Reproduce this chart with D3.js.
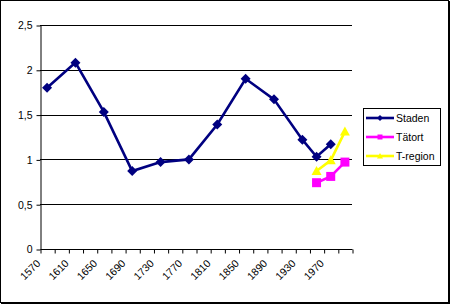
<!DOCTYPE html>
<html><head><meta charset="utf-8">
<script src="https://cdn.jsdelivr.net/npm/d3@7"></script>
<style>html,body{margin:0;padding:0;background:#fff;}svg{display:block;}</style>
</head><body>
<svg id="c" width="450" height="304"></svg>
<script>
const categories = d3.range(1570, 1991, 20);
const labelYears = [1570,1610,1650,1690,1730,1770,1810,1850,1890,1930,1970];
const stadenYears = [1570,1610,1650,1690,1730,1770,1810,1850,1890,1930,1950,1970];
const stadenValues = [1.80,2.08,1.53,0.87,0.97,1.00,1.39,1.90,1.67,1.22,1.03,1.17];
const regionYears = [1950,1970,1990];
const tatortValues = [0.74,0.81,0.97];
const tregionValues = [0.87,0.99,1.31];
const yTicks = [0,0.5,1,1.5,2,2.5];
const seriesNames = ["Staden","Tätort","T-region"];

const svg = d3.select("#c");
const font = "'Liberation Sans', Arial, sans-serif";
const L = 40, R = 352, T = 25, B = 249;

const x = d3.scaleBand().domain(categories).range([L, R]).padding(0);
const xi = d3.scaleLinear().domain([0, categories.length]).range([L, R]);
const y = d3.scaleLinear().domain([0, 2.5]).range([B, T]);
const cx = d => x(d) + x.bandwidth()/2;

// frame
svg.append("rect").attr("x",0.5).attr("y",0.5).attr("width",448).attr("height",302)
  .attr("fill","#fff").attr("stroke","#000");
svg.append("line").attr("x1",449.5).attr("x2",449.5).attr("y1",1).attr("y2",304).attr("stroke","#000");
svg.append("line").attr("x1",1).attr("x2",450).attr("y1",303.5).attr("y2",303.5).attr("stroke","#000");

// gridlines
svg.append("g").selectAll("line").data(yTicks.filter(d=>d>0)).join("line")
  .attr("x1",L).attr("x2",R).attr("y1",d=>Math.round(y(d))+0.5).attr("y2",d=>Math.round(y(d))+0.5)
  .attr("stroke","#000");

// y axis
const ya = svg.append("g").attr("transform",`translate(${L+0.5},0.5)`)
  .call(d3.axisLeft(y).tickValues(yTicks).tickSize(4).tickSizeOuter(0)
    .tickFormat(d => String(d).replace(".", ",")));
ya.selectAll("path,line").attr("stroke","#000");
ya.selectAll("text").attr("font-family",font).attr("font-size","10.5px").attr("fill","#000").attr("x",-8);

// x axis ticks
const xa = svg.append("g").attr("transform",`translate(0.5,${B+0.5})`)
  .call(d3.axisBottom(xi).tickValues(d3.range(0, categories.length+1)).tickSize(4).tickSizeOuter(0).tickFormat(""));
xa.selectAll("path,line").attr("stroke","#000");
xa.select("path").attr("d",`M${L},0H${R}`);

// x labels
svg.append("g").selectAll("text").data(labelYears).join("text")
  .attr("transform", d => `translate(${cx(d)-6},${B+15}) rotate(-45)`)
  .attr("text-anchor","end").attr("font-family",font).attr("font-size","10.5px").attr("fill","#000")
  .text(d => d);

// line generator
const line = d3.line().x(d=>cx(d[0])).y(d=>y(d[1]));

function drawSeries(years, vals, color, width, shape, size){
  const data = years.map((yr,i)=>[yr, vals[i]]);
  svg.append("path").datum(data).attr("d", line).attr("fill","none")
    .attr("stroke",color).attr("stroke-width",width).attr("stroke-linejoin","miter");
  svg.append("g").selectAll("path").data(data).join("path")
    .attr("transform", d=>`translate(${cx(d[0])},${y(d[1])})`)
    .attr("d", shapePath(shape, size)).attr("fill",color);
}
function shapePath(shape, s){
  const h = s/2;
  if (shape==="diamond") return `M0,${-h}L${h},0L0,${h}L${-h},0Z`;
  if (shape==="square") return `M${-h},${-h}H${h}V${h}H${-h}Z`;
  return `M0,${-h}L${h},${h*0.8}L${-h},${h*0.8}Z`;
}

drawSeries(stadenYears, stadenValues, "#000080", 2.6, "diamond", 10);
drawSeries(regionYears, tregionValues, "#FFFF00", 2.6, "triangle", 10);
drawSeries(regionYears, tatortValues, "#FF00FF", 2.6, "square", 9);

// legend
const lg = svg.append("g");
lg.append("rect").attr("x",363.5).attr("y",108.5).attr("width",77).attr("height",57)
  .attr("fill","#fff").attr("stroke","#000");
const legItems = [
  {name: seriesNames[0], color:"#000080", shape:"diamond", s:6},
  {name: seriesNames[1], color:"#FF00FF", shape:"square", s:5},
  {name: seriesNames[2], color:"#FFFF00", shape:"triangle", s:6}
];
legItems.forEach((it,i)=>{
  const yy = 118 + i*19;
  lg.append("line").attr("x1",366).attr("x2",394).attr("y1",yy).attr("y2",yy)
    .attr("stroke",it.color).attr("stroke-width",2.6);
  lg.append("path").attr("transform",`translate(380,${yy})`).attr("d",shapePath(it.shape,it.s)).attr("fill",it.color);
  lg.append("text").attr("x",396).attr("y",yy+4).attr("font-family",font).attr("font-size","10.5px")
    .attr("fill","#000").text(it.name);
});
</script>
</body></html>
